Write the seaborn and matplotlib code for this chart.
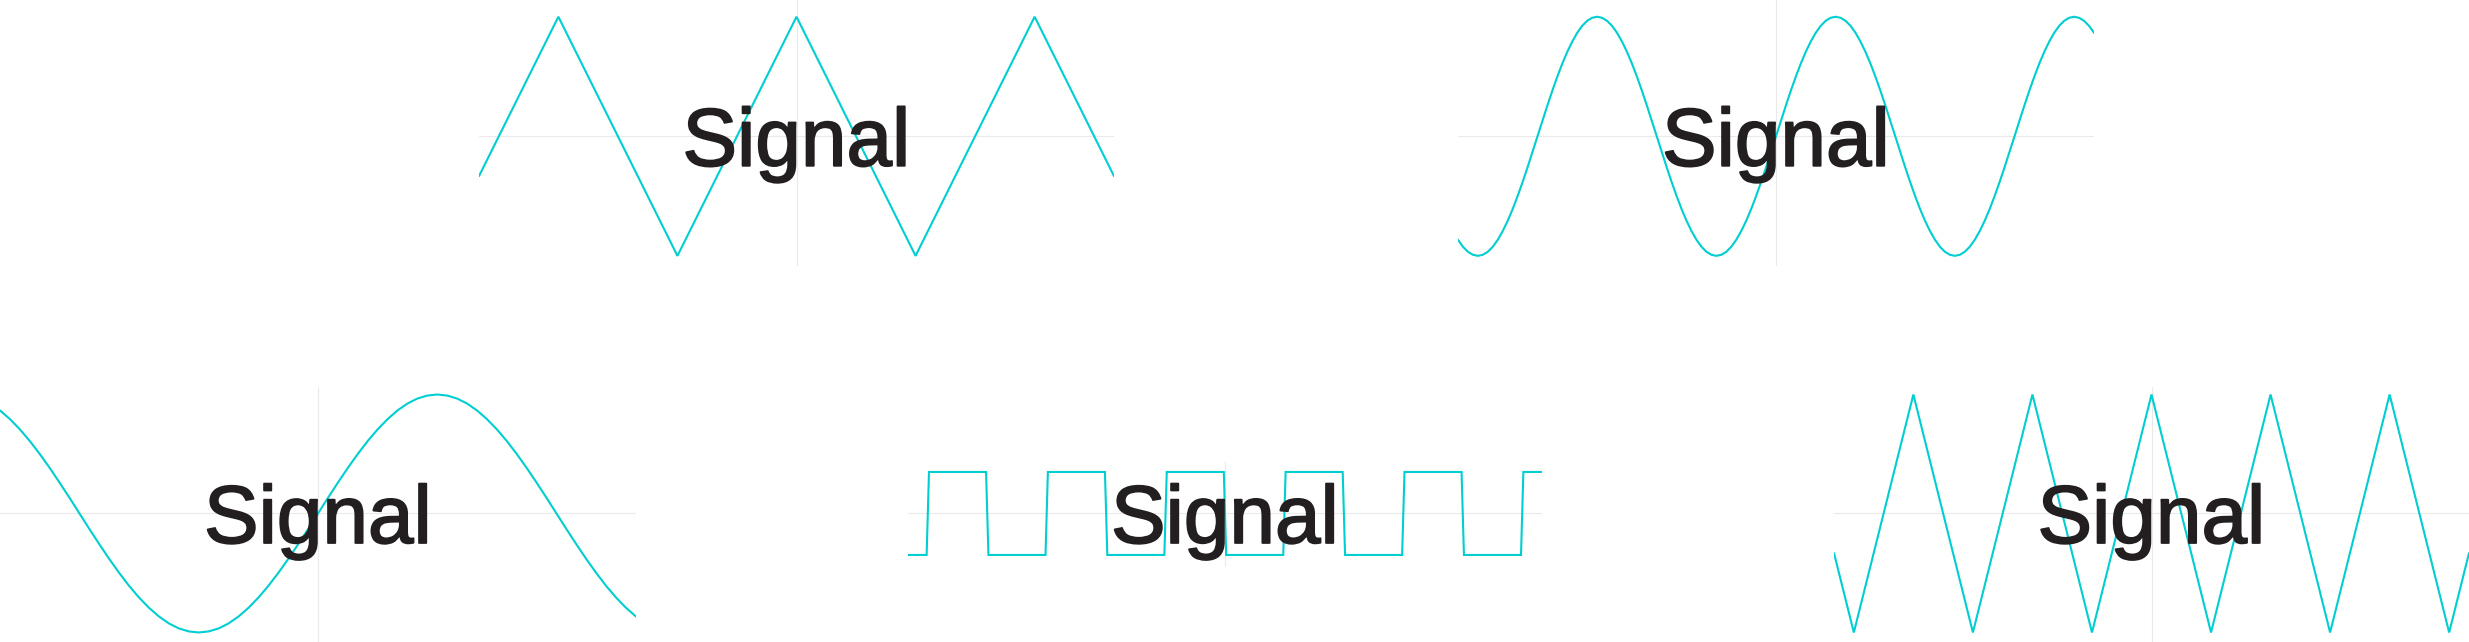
import matplotlib
matplotlib.use("Agg")
import matplotlib.pyplot as plt
import matplotlib.patheffects as pe
import seaborn as sns

# ---------------- data ----------------
label_text = "Signal"

# Panel A: slow triangle wave (vertices)
tri_slow_x = [-4.0, -3.0, -1.5, 0.0, 1.5, 3.0, 4.0]
tri_slow_y = [-0.333, 1.0, -1.0, 1.0, -1.0, 1.0, -0.333]

# Panel B: sine wave, period 3 (samples every 0.0625)
sine_fast_x = [
    -4.0, -3.9375, -3.875, -3.8125, -3.75, -3.6875, -3.625, -3.5625,
    -3.5, -3.4375, -3.375, -3.3125, -3.25, -3.1875, -3.125, -3.0625,
    -3.0, -2.9375, -2.875, -2.8125, -2.75, -2.6875, -2.625, -2.5625,
    -2.5, -2.4375, -2.375, -2.3125, -2.25, -2.1875, -2.125, -2.0625,
    -2.0, -1.9375, -1.875, -1.8125, -1.75, -1.6875, -1.625, -1.5625,
    -1.5, -1.4375, -1.375, -1.3125, -1.25, -1.1875, -1.125, -1.0625,
    -1.0, -0.9375, -0.875, -0.8125, -0.75, -0.6875, -0.625, -0.5625,
    -0.5, -0.4375, -0.375, -0.3125, -0.25, -0.1875, -0.125, -0.0625,
    0.0, 0.0625, 0.125, 0.1875, 0.25, 0.3125, 0.375, 0.4375,
    0.5, 0.5625, 0.625, 0.6875, 0.75, 0.8125, 0.875, 0.9375,
    1.0, 1.0625, 1.125, 1.1875, 1.25, 1.3125, 1.375, 1.4375,
    1.5, 1.5625, 1.625, 1.6875, 1.75, 1.8125, 1.875, 1.9375,
    2.0, 2.0625, 2.125, 2.1875, 2.25, 2.3125, 2.375, 2.4375,
    2.5, 2.5625, 2.625, 2.6875, 2.75, 2.8125, 2.875, 2.9375,
    3.0, 3.0625, 3.125, 3.1875, 3.25, 3.3125, 3.375, 3.4375,
    3.5, 3.5625, 3.625, 3.6875, 3.75, 3.8125, 3.875, 3.9375, 4.0]
sine_fast_y = [
    -0.866, -0.924, -0.966, -0.991, -1.0, -0.991, -0.966, -0.924,
    -0.866, -0.793, -0.707, -0.609, -0.5, -0.383, -0.259, -0.131,
    0.0, 0.131, 0.259, 0.383, 0.5, 0.609, 0.707, 0.793,
    0.866, 0.924, 0.966, 0.991, 1.0, 0.991, 0.966, 0.924,
    0.866, 0.793, 0.707, 0.609, 0.5, 0.383, 0.259, 0.131,
    0.0, -0.131, -0.259, -0.383, -0.5, -0.609, -0.707, -0.793,
    -0.866, -0.924, -0.966, -0.991, -1.0, -0.991, -0.966, -0.924,
    -0.866, -0.793, -0.707, -0.609, -0.5, -0.383, -0.259, -0.131,
    0.0, 0.131, 0.259, 0.383, 0.5, 0.609, 0.707, 0.793,
    0.866, 0.924, 0.966, 0.991, 1.0, 0.991, 0.966, 0.924,
    0.866, 0.793, 0.707, 0.609, 0.5, 0.383, 0.259, 0.131,
    0.0, -0.131, -0.259, -0.383, -0.5, -0.609, -0.707, -0.793,
    -0.866, -0.924, -0.966, -0.991, -1.0, -0.991, -0.966, -0.924,
    -0.866, -0.793, -0.707, -0.609, -0.5, -0.383, -0.259, -0.131,
    0.0, 0.131, 0.259, 0.383, 0.5, 0.609, 0.707, 0.793,
    0.866, 0.924, 0.966, 0.991, 1.0, 0.991, 0.966, 0.924, 0.866]

# Panel C: sine wave, period 6 (samples every 0.125)
sine_slow_x = [
    -4.0, -3.875, -3.75, -3.625, -3.5, -3.375, -3.25, -3.125,
    -3.0, -2.875, -2.75, -2.625, -2.5, -2.375, -2.25, -2.125,
    -2.0, -1.875, -1.75, -1.625, -1.5, -1.375, -1.25, -1.125,
    -1.0, -0.875, -0.75, -0.625, -0.5, -0.375, -0.25, -0.125,
    0.0, 0.125, 0.25, 0.375, 0.5, 0.625, 0.75, 0.875,
    1.0, 1.125, 1.25, 1.375, 1.5, 1.625, 1.75, 1.875,
    2.0, 2.125, 2.25, 2.375, 2.5, 2.625, 2.75, 2.875,
    3.0, 3.125, 3.25, 3.375, 3.5, 3.625, 3.75, 3.875, 4.0]
sine_slow_y = [
    0.866, 0.793, 0.707, 0.609, 0.5, 0.383, 0.259, 0.131,
    0.0, -0.131, -0.259, -0.383, -0.5, -0.609, -0.707, -0.793,
    -0.866, -0.924, -0.966, -0.991, -1.0, -0.991, -0.966, -0.924,
    -0.866, -0.793, -0.707, -0.609, -0.5, -0.383, -0.259, -0.131,
    0.0, 0.131, 0.259, 0.383, 0.5, 0.609, 0.707, 0.793,
    0.866, 0.924, 0.966, 0.991, 1.0, 0.991, 0.966, 0.924,
    0.866, 0.793, 0.707, 0.609, 0.5, 0.383, 0.259, 0.131,
    0.0, -0.131, -0.259, -0.383, -0.5, -0.609, -0.707, -0.793, -0.866]

# Panel D: square wave (vertices)
square_x = [-4.0, -3.765, -3.735, -3.015, -2.985, -2.265, -2.235, -1.515,
            -1.485, -0.765, -0.735, -0.015, 0.015, 0.735, 0.765, 1.485,
            1.515, 2.235, 2.265, 2.985, 3.015, 3.735, 3.765, 4.0]
square_y = [-1, -1, 1, 1, -1, -1, 1, 1,
            -1, -1, 1, 1, -1, -1, 1, 1,
            -1, -1, 1, 1, -1, -1, 1, 1]

# Panel E: fast triangle wave (vertices)
tri_fast_x = [-4.0, -3.75, -3.0, -2.25, -1.5, -0.75, 0.0, 0.75, 1.5, 2.25, 3.0, 3.75, 4.0]
tri_fast_y = [-0.333, -1.0, 1.0, -1.0, 1.0, -1.0, 1.0, -1.0, 1.0, -1.0, 1.0, -1.0, -0.333]

# ---------------- layout / style ----------------
W, H = 2469, 642
LINE = "#00CED1"
TEXT = "#231F20"
GRID = "#EAEAEA"

sns.set_theme(style="whitegrid")
plt.rcParams["font.family"] = ["Liberation Sans", "DejaVu Sans"]

fig = plt.figure(figsize=(W / 100, H / 100), dpi=100)
fig.patch.set_facecolor("white")

# (x0, y0, x1, y1) in pixels from top-left, ylim
panels = [
    (tri_slow_x, tri_slow_y, (479, 0, 1114, 266), (-1.085, 1.14), "miter"),
    (sine_fast_x, sine_fast_y, (1458, 0, 2094, 266), (-1.085, 1.14), "round"),
    (sine_slow_x, sine_slow_y, (0, 387, 636, 642), (-1.080, 1.063), "round"),
    (square_x, square_y, (908, 462, 1542, 567), (-1.29, 1.24), "miter"),
    (tri_fast_x, tri_fast_y, (1834, 387, 2469, 642), (-1.080, 1.063), "miter"),
]

for xs, ys, (x0, y0, x1, y1), ylim, join in panels:
    ax = fig.add_axes([x0 / W, 1 - y1 / H, (x1 - x0) / W, (y1 - y0) / H])
    ax.set_facecolor("none")
    sns.lineplot(x=xs, y=ys, ax=ax, color=LINE, linewidth=1.5,
                 estimator=None, sort=False, zorder=2)
    for ln in ax.get_lines():
        ln.set_solid_joinstyle(join)
    ax.set_xlim(-4, 4)
    ax.set_ylim(*ylim)
    ax.set_xticks([0])
    ax.set_yticks([0])
    ax.tick_params(length=0, labelbottom=False, labelleft=False)
    ax.grid(True, color=GRID, linewidth=0.8)
    ax.set_xlabel("")
    ax.set_ylabel("")
    for s in ax.spines.values():
        s.set_visible(False)
    ax.text(0, 0, label_text, ha="center", va="center_baseline",
            fontsize=59, color=TEXT, zorder=5,
            family=["Liberation Sans", "DejaVu Sans"],
            path_effects=[pe.withStroke(linewidth=1.3, foreground=TEXT)])

fig.savefig("out.png", dpi=100, facecolor="white")
